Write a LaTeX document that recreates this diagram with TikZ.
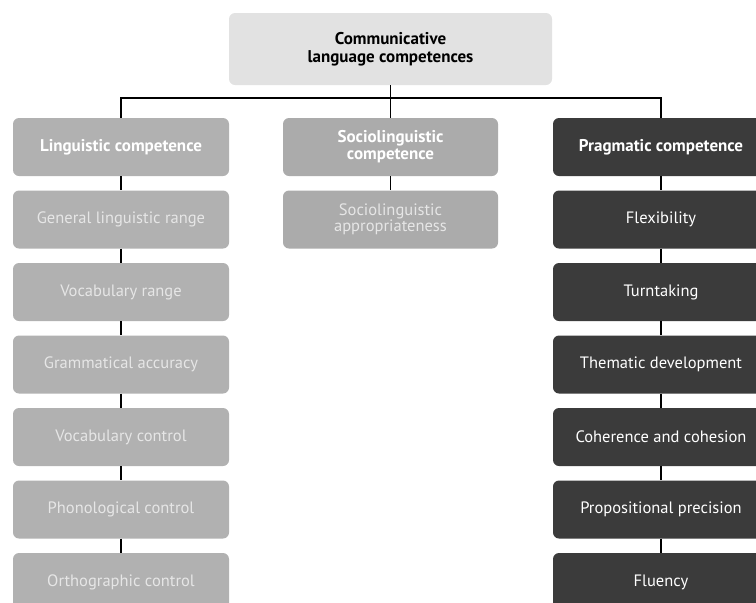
\documentclass[tikz,border=0pt]{standalone}
\usepackage{fontspec}
\setmainfont{PT Sans}
\usepackage{tikz}
\usetikzlibrary{positioning}

\definecolor{topgray}{HTML}{E2E2E2}
\definecolor{linggray}{HTML}{B1B1B1}
\definecolor{socgray}{HTML}{ABABAB}
\definecolor{pragdark}{HTML}{3B3B3B}
\definecolor{softtext}{HTML}{E6E6E6}

\begin{document}
\begin{tikzpicture}[x=1pt,y=-1pt,
    box/.style={rounded corners=6pt, minimum width=216pt, minimum height=58pt, align=center, inner sep=2pt,
                font=\fontsize{16.5}{16.5}\selectfont},
    head/.style={box, font=\fontsize{17}{17}\selectfont\bfseries, text=white},
    ling/.style={box, fill=linggray, text=softtext},
    soc/.style={box, fill=socgray, text=softtext},
    prag/.style={box, fill=pragdark, text=white},
    link/.style={draw=black, line width=1.3pt}]
                      \clip (0,0) rectangle (756,603);
                      % top of the tree
                      \node [box, fill=topgray, minimum width=323pt, minimum height=72pt, font=\fontsize{17}{17.5}\selectfont\bfseries] (clc) at (390.5,49) {Communicative\\language competences};
                      \coordinate (junction) at (390.5,98);
                      % the three headers
                      \node [head, fill=linggray] (lingc) at (121,147) {Linguistic competence};
                      \node [head, fill=socgray, minimum width=215pt] (socc) at (390.5,147) {Sociolinguistic\\competence};
                      \node [head, fill=pragdark] (pragc) at (661,147) {Pragmatic competence};
                      % linguistic column
                      \node [ling] (glr) at (121,219.5) {General linguistic range};
                      \node [ling] (vr) at (121,292) {Vocabulary range};
                      \node [ling] (ga) at (121,364.5) {Grammatical accuracy};
                      \node [ling] (vc) at (121,437) {Vocabulary control};
                      \node [ling] (pc) at (121,509.5) {Phonological control};
                      \node [ling] (oc) at (121,582) {Orthographic control};
                      % sociolinguistic column
                      \node [soc, minimum width=215pt] (sa) at (390.5,219.5) {Sociolinguistic\\appropriateness};
                      % pragmatic column
                      \node [prag] (flex) at (661,219.5) {Flexibility};
                      \node [prag] (turn) at (661,292) {Turntaking};
                      \node [prag] (them) at (661,364.5) {Thematic development};
                      \node [prag] (coh) at (661,437) {Coherence and cohesion};
                      \node [prag] (prop) at (661,509.5) {Propositional precision};
                      \node [prag] (flu) at (661,582) {Fluency};
                      % connectors
                      \draw [link] (clc.south) -- (socc.north);
                      \draw [link] (lingc.north) |- (junction) -| (pragc.north);
                      \draw [link] (lingc) -- (glr) -- (vr) -- (ga) -- (vc) -- (pc) -- (oc);
                      \draw [link] (socc) -- (sa);
                      \draw [link] (pragc) -- (flex) -- (turn) -- (them) -- (coh) -- (prop) -- (flu);
                  \end{tikzpicture}
\end{document}
